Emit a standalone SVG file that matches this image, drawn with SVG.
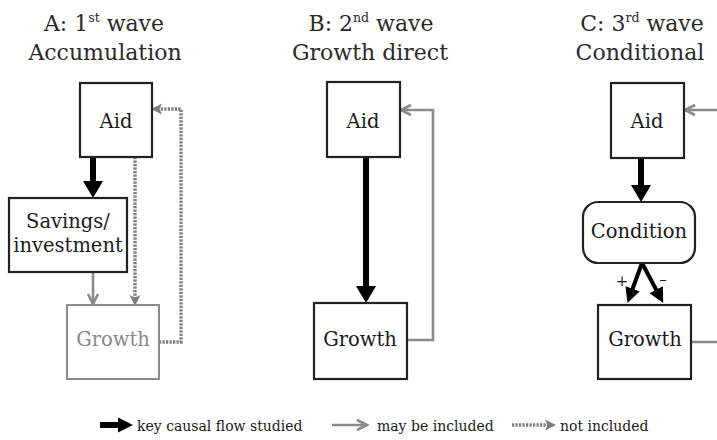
<svg xmlns="http://www.w3.org/2000/svg" width="717" height="440" viewBox="0 0 717 440">
<style>
  text{font-family:'DejaVu Serif',serif;fill:#1a1a1a;text-anchor:middle}
  .title{font-size:22px;fill:#2a2a2a}
  .sup{font-size:12.5px}
  .lbl{font-size:19.5px}
  .leg{font-size:14px;text-anchor:start}
  .sign{font-size:15px}
  .box{fill:#fff;stroke:#222;stroke-width:2.2}
  .gbox{fill:#fff;stroke:#8c8c8c;stroke-width:2}
  .blk{stroke:#000;stroke-width:6;fill:none}
  .blk2{stroke:#000;stroke-width:4;fill:none}
  .gry{stroke:#8a8a8a;stroke-width:2.6;fill:none}
  .dot{stroke:#7e7e7e;stroke-width:3.4;fill:none;stroke-dasharray:2.2 1.3}
</style>
<defs>
  <marker id="mBlk" markerUnits="userSpaceOnUse" viewBox="0 0 17 20" markerWidth="17" markerHeight="20" refX="8" refY="10" orient="auto" overflow="visible">
    <path d="M0,0 L17,10 L0,20 z" fill="#000"/>
  </marker>
  <marker id="mBlkS" markerUnits="userSpaceOnUse" viewBox="0 0 15 15" markerWidth="15" markerHeight="15" refX="6" refY="7.5" orient="auto" overflow="visible">
    <path d="M0,0 L15,7.5 L0,15 z" fill="#000"/>
  </marker>
  <marker id="mGry" markerUnits="userSpaceOnUse" viewBox="0 0 12 12" markerWidth="12" markerHeight="12" refX="11" refY="6" orient="auto" overflow="visible">
    <path d="M1,1 L11,6 L1,11" fill="none" stroke="#8a8a8a" stroke-width="2.6"/>
  </marker>
  <marker id="mDot" markerUnits="userSpaceOnUse" viewBox="0 0 11 11" markerWidth="11" markerHeight="11" refX="5" refY="5.5" orient="auto" overflow="visible">
    <path d="M0,0 L11,5.5 L0,11 L2.5,5.5 z" fill="#7e7e7e"/>
  </marker>
</defs>

<g id="titles">
  <text class="title" x="104" y="31">A: 1<tspan class="sup" dy="-9">st</tspan><tspan dy="9"> wave</tspan></text>
  <text class="title" x="105" y="60">Accumulation</text>
  <text class="title" x="371" y="31">B: 2<tspan class="sup" dy="-9">nd</tspan><tspan dy="9"> wave</tspan></text>
  <text class="title" x="370" y="60">Growth direct</text>
  <text class="title" x="642" y="31">C: 3<tspan class="sup" dy="-9">rd</tspan><tspan dy="9"> wave</tspan></text>
  <text class="title" x="640" y="60">Conditional</text>
</g>

<g id="connectors">
  <line class="blk" x1="93" y1="157" x2="93" y2="189" marker-end="url(#mBlk)"/>
  <line class="gry" x1="93" y1="272" x2="93" y2="304" marker-end="url(#mGry)"/>
  <line class="dot" x1="135" y1="157" x2="135" y2="300" marker-end="url(#mDot)"/>
  <polyline class="dot" points="159,342 181,342 181,109 157,109" marker-end="url(#mDot)"/>
  <line class="blk" x1="366" y1="157" x2="366" y2="294" marker-end="url(#mBlk)"/>
  <polyline class="gry" points="407,340 433,340 433,110 401,110" marker-end="url(#mGry)"/>
  <line class="blk" x1="641" y1="158" x2="641" y2="193" marker-end="url(#mBlk)"/>
  <line class="blk2" x1="642" y1="263" x2="630.5" y2="294.5" marker-end="url(#mBlkS)"/>
  <line class="blk2" x1="642" y1="263" x2="659" y2="295" marker-end="url(#mBlkS)"/>
  <polyline class="gry" points="691,342 722,342 722,110 685,110" marker-end="url(#mGry)"/>
  <line class="blk" x1="100" y1="425" x2="124" y2="425" marker-end="url(#mBlkS)"/>
  <line class="gry" x1="332" y1="425" x2="367" y2="425" marker-end="url(#mGry)"/>
  <line class="dot" x1="512" y1="425" x2="550" y2="425" marker-end="url(#mDot)"/>
</g>

<g id="A-aid">
  <rect class="box" x="80" y="83" width="72" height="74"/>
  <text class="lbl" x="116" y="128">Aid</text>
</g>
<g id="A-savings">
  <rect class="box" x="9" y="198" width="118" height="74"/>
  <text class="lbl" x="68" y="228">Savings/</text>
  <text class="lbl" x="68" y="252">investment</text>
</g>
<g id="A-growth">
  <rect class="gbox" x="67" y="305" width="92" height="74"/>
  <text class="lbl" x="113" y="346" style="fill:#888">Growth</text>
</g>

<g id="B-aid">
  <rect class="box" x="327" y="82" width="73" height="75"/>
  <text class="lbl" x="363" y="128">Aid</text>
</g>
<g id="B-growth">
  <rect class="box" x="314" y="303" width="93" height="76"/>
  <text class="lbl" x="360" y="346">Growth</text>
</g>

<g id="C-aid">
  <rect class="box" x="611" y="83" width="73" height="75"/>
  <text class="lbl" x="647" y="128">Aid</text>
</g>
<g id="C-condition">
  <rect class="box" x="583" y="202" width="112" height="61" rx="15" ry="15"/>
  <text class="lbl" x="639" y="238">Condition</text>
</g>
<g id="C-growth">
  <rect class="box" x="598" y="305" width="93" height="74"/>
  <text class="lbl" x="645" y="346">Growth</text>
</g>
<g id="C-signs">
  <text class="sign" x="622" y="286">+</text>
  <text class="sign" x="663" y="284">–</text>
</g>

<g id="legend">
  <text class="leg" x="137" y="431">key causal flow studied</text>
  <text class="leg" x="377" y="431">may be included</text>
  <text class="leg" x="560" y="431">not included</text>
</g>
</svg>
